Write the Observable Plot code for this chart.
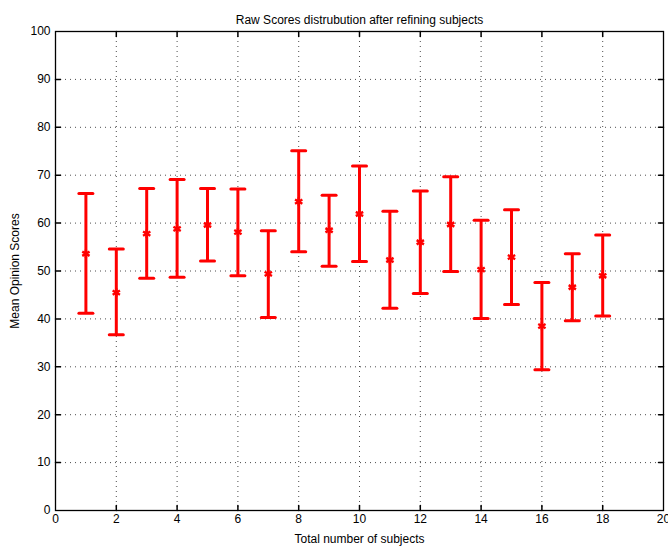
<!DOCTYPE html>
<html>
<head>
<meta charset="utf-8">
<script src="https://cdn.jsdelivr.net/npm/d3@7"></script>
<script src="https://cdn.jsdelivr.net/npm/@observablehq/plot@0.6"></script>
<style>
body { margin: 0; background: #fff; }
svg { font-family: "Liberation Sans", Arial, sans-serif; }
</style>
</head>
<body>
<div id="chart"></div>
<script>
const subjects = [1, 2, 3, 4, 5, 6, 7, 8, 9, 10, 11, 12, 13, 14, 15, 16, 17, 18];
const means = [53.6, 45.5, 57.8, 58.8, 59.6, 58.1, 49.4, 64.5, 58.5, 61.9, 52.3, 56.0, 59.7, 50.3, 52.9, 38.5, 46.6, 49.0];
const upper = [66.2, 54.6, 67.2, 69.1, 67.2, 67.1, 58.4, 75.1, 65.8, 71.9, 62.5, 66.7, 69.7, 60.6, 62.8, 47.6, 53.6, 57.5];
const lower = [41.2, 36.7, 48.5, 48.7, 52.1, 49.0, 40.3, 54.0, 51.0, 52.0, 42.2, 45.3, 49.9, 40.1, 43.0, 29.4, 39.6, 40.6];
const xTicks = [0, 2, 4, 6, 8, 10, 12, 14, 16, 18, 20];
const yTicks = [0, 10, 20, 30, 40, 50, 60, 70, 80, 90, 100];
const title = "Raw Scores distrubution after refining subjects";
const xLabel = "Total number of subjects";
const yLabel = "Mean Opinion Scores";

const data = subjects.map((s, i) => ({x: s, mean: means[i], hi: upper[i], lo: lower[i]}));
const innerX = xTicks.slice(1, -1);
const innerY = yTicks.slice(1, -1);
const lineShape = {draw(context, l) { context.moveTo(0, 0); context.lineTo(0, -l); }};
const red = "#ff0000";

const chart = Plot.plot({
  width: 668,
  height: 546,
  marginLeft: 55,
  marginRight: 5,
  marginTop: 31,
  marginBottom: 36,
  style: {fontSize: "12px", fontFamily: "Liberation Sans, Arial, sans-serif", color: "#000", background: "#fff"},
  x: {domain: [0, 20], ticks: xTicks, tickSize: 0, tickPadding: 4, label: xLabel, labelAnchor: "center", labelOffset: 32, labelArrow: "none"},
  y: {domain: [0, 100], ticks: yTicks, tickSize: 0, tickPadding: 5, label: yLabel, labelAnchor: "center", labelOffset: 45, labelArrow: "none"},
  marks: [
    Plot.gridX(innerX, {stroke: "#000", strokeOpacity: 0.7, strokeDasharray: "1,4"}),
    Plot.gridY(innerY, {stroke: "#000", strokeOpacity: 0.7, strokeDasharray: "1,4"}),
    Plot.vector(innerX, {x: d => d, frameAnchor: "bottom", length: 5, rotate: 0, anchor: "start", shape: lineShape, stroke: "#000"}),
    Plot.vector(innerX, {x: d => d, frameAnchor: "top", length: 5, rotate: 180, anchor: "start", shape: lineShape, stroke: "#000"}),
    Plot.vector(innerY, {y: d => d, frameAnchor: "left", length: 5, rotate: 90, anchor: "start", shape: lineShape, stroke: "#000"}),
    Plot.vector(innerY, {y: d => d, frameAnchor: "right", length: 5, rotate: -90, anchor: "start", shape: lineShape, stroke: "#000"}),
    Plot.frame({stroke: "#000", strokeWidth: 1.3}),
    Plot.ruleX(data, {x: "x", y1: "lo", y2: "hi", stroke: red, strokeWidth: 3}),
    Plot.vector(data, {x: "x", y: "hi", length: 14, rotate: 90, anchor: "middle", shape: lineShape, stroke: red, strokeWidth: 3}),
    Plot.vector(data, {x: "x", y: "lo", length: 14, rotate: 90, anchor: "middle", shape: lineShape, stroke: red, strokeWidth: 3}),
    Plot.dot(data, {x: "x", y: "mean", symbol: "asterisk", r: 4, stroke: red, strokeWidth: 2.4}),
    Plot.text([title], {text: d => d, frameAnchor: "top", dy: -16, fontSize: 12, fill: "#000"})
  ]
});
document.getElementById("chart").appendChild(chart);
</script>
</body>
</html>
